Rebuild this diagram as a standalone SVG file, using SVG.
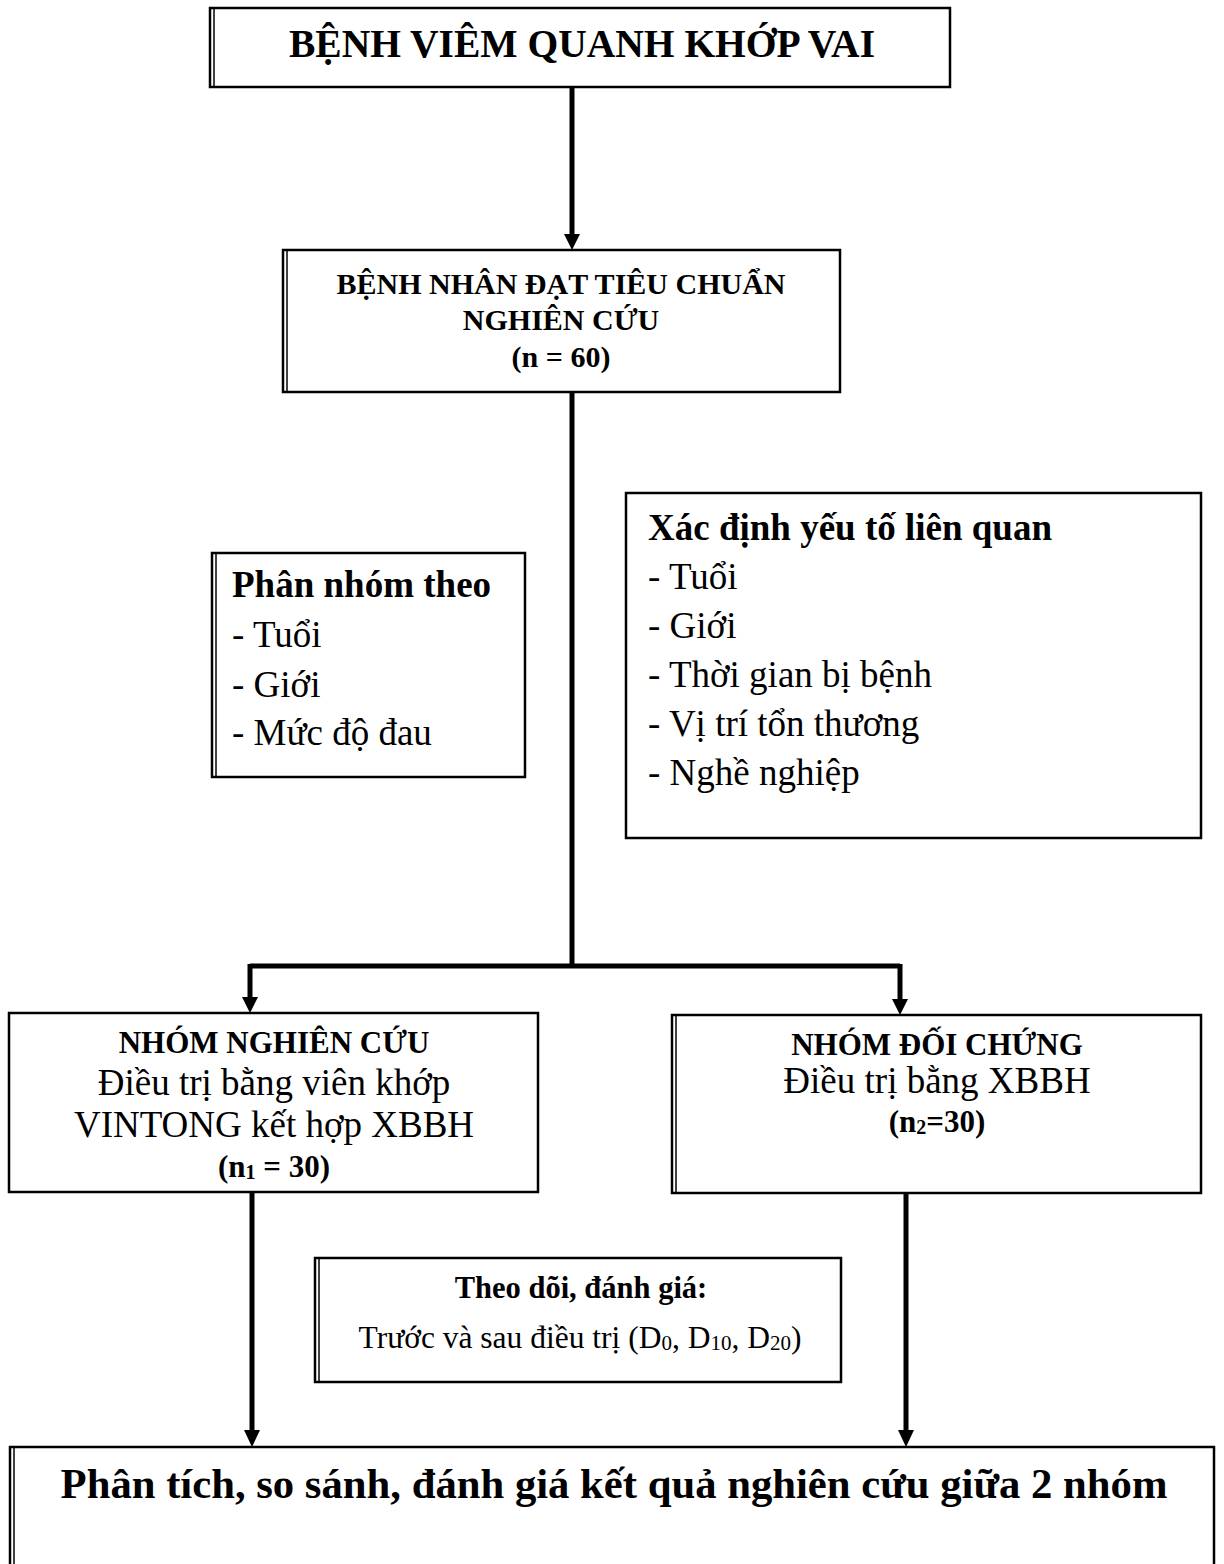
<svg xmlns="http://www.w3.org/2000/svg" width="1224" height="1564" viewBox="0 0 1224 1564">
<defs>
<style>
.box{fill:#fff;stroke:#000;stroke-width:2.5}
.dbl{stroke:#000;stroke-width:1.5;fill:none}
.conn{stroke:#000;stroke-width:5;fill:none}
.head{fill:#000}
text{font-family:"Liberation Serif","Times New Roman",serif;fill:#000}
.b{font-weight:bold}
.c{text-anchor:middle}
</style>
</defs>
<rect width="1224" height="1564" fill="#fff"/>

<g id="connectors">
<path class="conn" d="M572,87 V236"/>
<polygon class="head" points="564,234 580,234 572,250"/>
<path class="conn" d="M572,392 V966"/>
<path class="conn" d="M250,966 H900"/>
<path class="conn" d="M250,964 V999"/>
<polygon class="head" points="242,997 258,997 250,1013"/>
<path class="conn" d="M900,964 V1001"/>
<polygon class="head" points="892,999 908,999 900,1015"/>
<path class="conn" d="M252,1192 V1432"/>
<polygon class="head" points="244,1430 260,1430 252,1447"/>
<path class="conn" d="M906,1193 V1432"/>
<polygon class="head" points="898,1430 914,1430 906,1447"/>
</g>

<g id="node-title">
<rect class="box" x="210" y="8" width="740" height="79"/>
<line class="dbl" x1="214" y1="8" x2="214" y2="87"/>
<text class="b c" x="582" y="57" font-size="39.5">BỆNH VIÊM QUANH KHỚP VAI</text>
</g>

<g id="node-patients">
<rect class="box" x="283" y="250" width="557" height="142"/>
<line class="dbl" x1="287" y1="250" x2="287" y2="392"/>
<text class="b c" x="561" y="294" font-size="30">BỆNH NHÂN ĐẠT TIÊU CHUẨN</text>
<text class="b c" x="561" y="330" font-size="30">NGHIÊN CỨU</text>
<text class="b c" x="561" y="367" font-size="30">(n = 60)</text>
</g>

<g id="node-grouping">
<rect class="box" x="212" y="553" width="313" height="224"/>
<line class="dbl" x1="216" y1="553" x2="216" y2="777"/>
<text class="b" x="232" y="597" font-size="37">Phân nhóm theo</text>
<text x="232" y="647" font-size="37">- Tuổi</text>
<text x="232" y="697" font-size="37">- Giới</text>
<text x="232" y="745" font-size="37">- Mức độ đau</text>
</g>

<g id="node-factors">
<rect class="box" x="626" y="493" width="575" height="345"/>
<text class="b" x="648" y="540" font-size="37">Xác định yếu tố liên quan</text>
<text x="648" y="589" font-size="37">- Tuổi</text>
<text x="648" y="638" font-size="37">- Giới</text>
<text x="648" y="687" font-size="37">- Thời gian bị bệnh</text>
<text x="648" y="736" font-size="37">- Vị trí tổn thương</text>
<text x="648" y="785" font-size="37">- Nghề nghiệp</text>
</g>

<g id="node-study">
<rect class="box" x="9" y="1013" width="529" height="179"/>
<text class="b c" x="274" y="1053" font-size="31">NHÓM NGHIÊN CỨU</text>
<text class="c" x="274" y="1095" font-size="37">Điều trị bằng viên khớp</text>
<text class="c" x="274" y="1137" font-size="37">VINTONG kết hợp XBBH</text>
<text class="b c" x="274" y="1177" font-size="31">(n<tspan font-size="20" dy="2">1</tspan><tspan dy="-2"> = 30)</tspan></text>
</g>

<g id="node-control">
<rect class="box" x="672" y="1015" width="529" height="178"/>
<line class="dbl" x1="676" y1="1015" x2="676" y2="1193"/>
<text class="b c" x="937" y="1055" font-size="31">NHÓM ĐỐI CHỨNG</text>
<text class="c" x="937" y="1093" font-size="37">Điều trị bằng XBBH</text>
<text class="b c" x="937" y="1132" font-size="31">(n<tspan font-size="20" dy="2">2</tspan><tspan dy="-2">=30)</tspan></text>
</g>

<g id="node-followup">
<rect class="box" x="315" y="1258" width="526" height="124"/>
<line class="dbl" x1="319" y1="1258" x2="319" y2="1382"/>
<text class="b c" x="581" y="1298" font-size="30.5">Theo dõi, đánh giá:</text>
<text class="c" x="580" y="1348" font-size="31.5">Trước và sau điều trị (D<tspan font-size="21" dy="2">0</tspan><tspan dy="-2">, D</tspan><tspan font-size="21" dy="2">10</tspan><tspan dy="-2">, D</tspan><tspan font-size="21" dy="2">20</tspan><tspan dy="-2">)</tspan></text>
</g>

<g id="node-result">
<rect class="box" x="10" y="1447" width="1204" height="160"/>
<line class="dbl" x1="14" y1="1447" x2="14" y2="1564"/>
<text class="b c" x="614" y="1498" font-size="42.7">Phân tích, so sánh, đánh giá kết quả nghiên cứu giữa 2 nhóm</text>
</g>
</svg>
